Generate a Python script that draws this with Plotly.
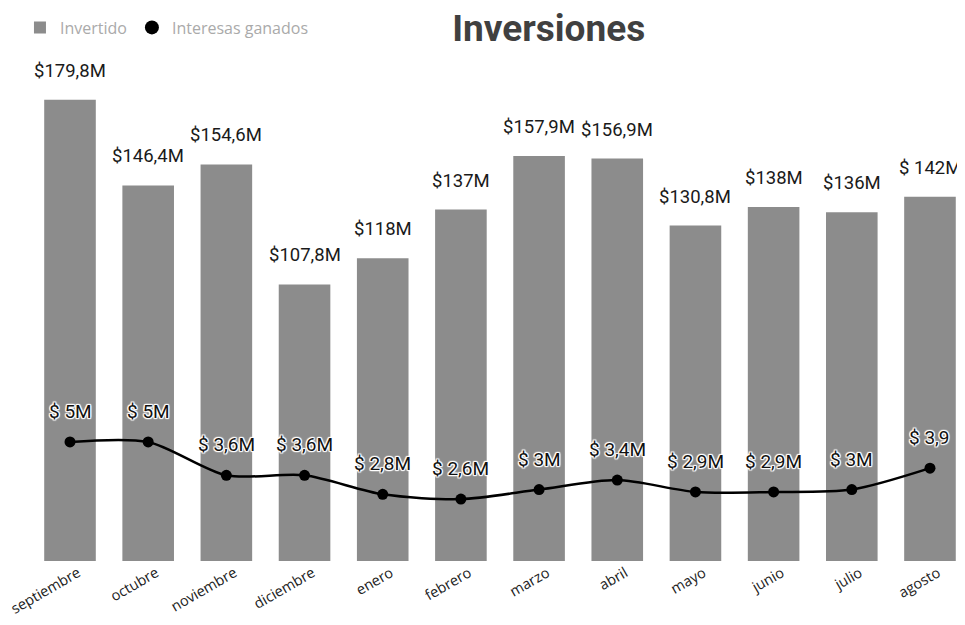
import plotly.graph_objects as go

meses = ["septiembre", "octubre", "noviembre", "diciembre", "enero", "febrero",
         "marzo", "abril", "mayo", "junio", "julio", "agosto"]
invertido = [179.8, 146.4, 154.6, 107.8, 118, 137, 157.9, 156.9, 130.8, 138, 136, 142]
invertido_txt = ["$179,8M", "$146,4M", "$154,6M", "$107,8M", "$118M", "$137M",
                 "$157,9M", "$156,9M", "$130,8M", "$138M", "$136M", "$ 142M"]
intereses = [5, 5, 3.6, 3.6, 2.8, 2.6, 3, 3.4, 2.9, 2.9, 3, 3.9]
intereses_txt = ["$ 5M", "$ 5M", "$ 3,6M", "$ 3,6M", "$ 2,8M", "$ 2,6M",
                 "$ 3M", "$ 3,4M", "$ 2,9M", "$ 2,9M", "$ 3M", "$ 3,9"]

fig = go.Figure()
fig.add_trace(go.Bar(x=meses, y=invertido, name="Invertido",
                     marker=dict(color="#8c8c8c", line=dict(width=0)),
                     hoverinfo="skip"))
fig.add_trace(go.Scatter(x=meses, y=intereses, name="Interesas ganados", yaxis="y2",
                         mode="lines+markers", showlegend=False,
                         line=dict(color="black", width=2.5, shape="spline", smoothing=0.8),
                         marker=dict(color="black", size=11)))
# legend-only entry with just the circle symbol
fig.add_trace(go.Scatter(x=[None], y=[None], name="Interesas ganados", yaxis="y2",
                         mode="markers", marker=dict(color="black", size=14)))

shadow = ("1px 0 1px white, -1px 0 1px white, 0 1px 1px white, 0 -1px 1px white, "
          "1px 1px 1px white, -1px -1px 1px white, 1px -1px 1px white, -1px 1px 1px white")
ann = []
for m, v, t in zip(meses, invertido, invertido_txt):
    ann.append(dict(x=m, y=v, xref="x", yref="y", text=t, showarrow=False,
                    yanchor="bottom", yshift=16,
                    font=dict(family="Roboto", size=18.5, color="#1a1a1a")))
for m, v, t in zip(meses, intereses, intereses_txt):
    ann.append(dict(x=m, y=v, xref="x", yref="y2", text=t, showarrow=False,
                    yanchor="bottom", yshift=17,
                    font=dict(family="Roboto", size=19, color="#111111", shadow=shadow)))

fig.update_layout(
    width=957, height=617,
    margin=dict(l=0, r=0, t=40, b=64, autoexpand=False),
    paper_bgcolor="white", plot_bgcolor="white",
    bargap=0.34,
    title=dict(text="<b>Inversiones</b>", x=0.565, xanchor="center", y=0.968, yanchor="middle",
               font=dict(family="Roboto", size=37, color="#404040")),
    xaxis=dict(range=[-0.793, 11.448], tickangle=-30, showgrid=False, showline=False,
               automargin=False, ticklabelshift=8,
               ticks="", tickfont=dict(family="Open Sans", size=14.5, color="#222222")),
    yaxis=dict(range=[0, 200], visible=False, showgrid=False, automargin=False),
    yaxis2=dict(range=[0, 21.55], overlaying="y", visible=False, showgrid=False,
                automargin=False),
    legend=dict(orientation="h", x=0.0125, xanchor="left", y=1.04, yanchor="middle",
                font=dict(family="Open Sans", size=16, color="#aaaaaa"),
                itemsizing="trace"),
    annotations=ann,
    showlegend=True,
)

fig.write_html("out.html")
